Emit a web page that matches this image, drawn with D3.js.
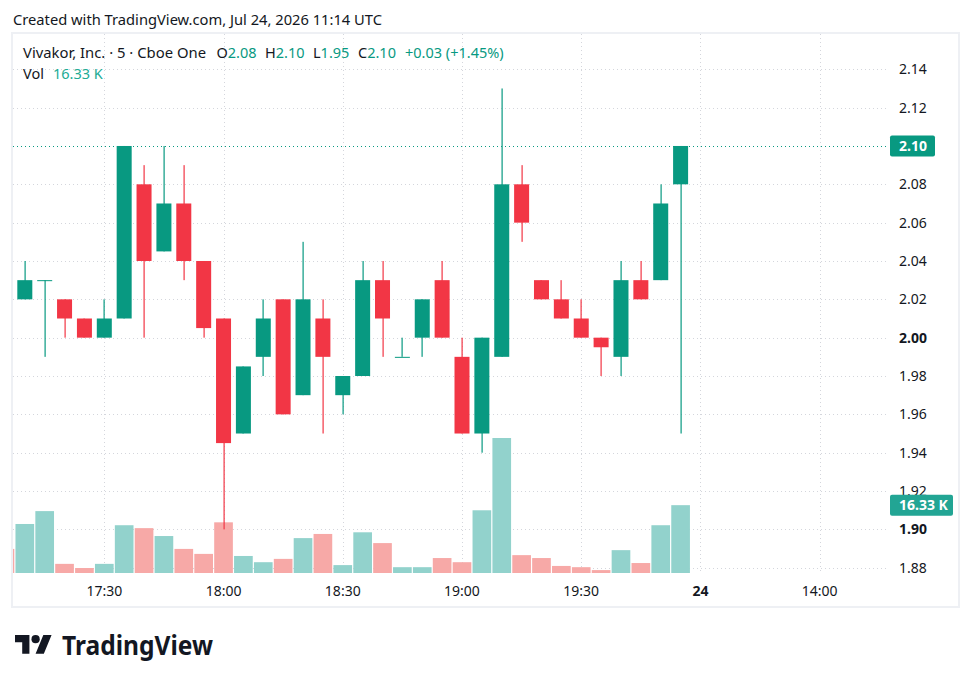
<!DOCTYPE html>
<html>
<head>
<meta charset="utf-8">
<script src="https://cdn.jsdelivr.net/npm/d3@7/dist/d3.min.js"></script>
<style>
  html, body { margin: 0; padding: 0; background: #ffffff; }
  svg { display: block; }
  text { font-family: "Noto Sans", "DejaVu Sans", sans-serif; }
</style>
</head>
<body>
<svg id="chart" width="972" height="683"></svg>
<script>
// ---------------- DATA ----------------
const times  = ["17:10","17:15","17:20","17:25","17:30","17:35","17:40","17:45","17:50","17:55",
                "18:00","18:05","18:10","18:15","18:20","18:25","18:30","18:35","18:40","18:45",
                "18:50","18:55","19:00","19:05","19:10","19:15","19:20","19:25","19:30","19:35",
                "19:40","19:45","19:50","19:55"];
const open   = [2.02,2.03,2.02,2.01,2.00,2.01,2.08,2.045,2.07,2.04,
                2.01,1.95,1.99,2.02,1.97,2.01,1.97,1.98,2.03,1.99,
                2.00,2.03,1.99,1.95,1.99,2.08,2.03,2.02,2.01,2.00,
                1.99,2.03,2.03,2.08];
const high   = [2.04,2.03,2.02,2.01,2.02,2.10,2.09,2.10,2.09,2.04,
                2.01,1.985,2.02,2.02,2.05,2.02,1.98,2.04,2.04,2.00,
                2.02,2.04,2.00,2.00,2.13,2.09,2.03,2.03,2.02,2.00,
                2.04,2.04,2.08,2.10];
const low    = [2.02,1.99,2.00,2.00,2.00,2.01,2.00,2.045,2.03,2.00,
                1.90,1.95,1.98,1.96,1.97,1.95,1.96,1.98,1.99,1.99,
                1.99,2.00,1.95,1.94,1.99,2.05,2.02,2.01,2.00,1.98,
                1.98,2.02,2.03,1.95];
const close  = [2.03,2.03,2.01,2.00,2.01,2.10,2.04,2.07,2.04,2.005,
                1.945,1.985,2.01,1.96,2.02,1.99,1.98,2.03,2.01,1.99,
                2.02,2.00,1.95,2.00,2.08,2.06,2.02,2.01,2.00,1.995,
                2.03,2.02,2.07,2.10];
const volume = [11.8,14.9,2.2,1.2,2.2,11.5,10.8,8.9,5.8,4.6,
                12.2,4.1,2.6,3.4,8.4,9.4,1.9,9.8,7.2,1.4,
                1.4,3.6,2.6,15.1,32.5,4.3,3.6,1.7,1.4,0.7,
                5.5,2.4,11.5,16.33];   // thousands
// bar at 17:05, only its volume is visible at the left edge
const partialTime = "17:05", partialVolume = 5.8, partialUp = false;

const priceTicks = [1.88,1.90,1.92,1.94,1.96,1.98,2.00,2.02,2.04,2.06,2.08,2.10,2.12,2.14];
const boldPriceTicks = [1.90, 2.00];
const timeTickLabels = ["17:30","18:00","18:30","19:00","19:30","24","14:00"];
const timeTickIndex  = [5, 11, 17, 23, 29, 35, 41];   // bar index counted from 17:05
const boldTimeTicks = ["24"];

const headerText = "Created with TradingView.com, Jul 24, 2026 11:14 UTC";
const symbolText = "Vivakor, Inc. · 5 · Cboe One";
const lastPrice = 2.10;
const lastVolumeLabel = "16.33 K";
const changeText = "+0.03 (+1.45%)";

// ---------------- COLORS ----------------
const UP = "#089981", DOWN = "#f23645";
const VUP = "#92d2cc", VDOWN = "#f7a9a7";
const TXT = "#131722", GRID = "#d4d6dc";

// ---------------- LAYOUT ----------------
const svg = d3.select("#chart");
const pane = {left: 13, right: 887, top: 34, bottom: 576};

const x = d3.scaleLinear().domain([5, 41]).range([104.3, 819.7]);   // index space
const y = d3.scaleLinear().domain([1.88, 2.14]).range([567.7, 69.3]);
const vy = d3.scaleLinear().domain([0, d3.max(volume)]).range([573, 438]);

const step = x(1) - x(0);
const bodyW = 15;
const volW = step - 1.2;

// header
svg.append("text").attr("x", 13).attr("y", 25).attr("font-size", 15).attr("fill", TXT)
  .attr("textLength", 369).attr("lengthAdjust", "spacingAndGlyphs")
  .text(headerText);

// frame
svg.append("rect").attr("x", 12).attr("y", 33).attr("width", 947).attr("height", 574)
  .attr("fill", "none").attr("stroke", "#eef0f4").attr("stroke-width", 2);

const clip = svg.append("defs").append("clipPath").attr("id", "paneClip");
clip.append("rect").attr("x", pane.left).attr("y", pane.top)
  .attr("width", pane.right - pane.left).attr("height", pane.bottom - pane.top);

const g = svg.append("g").attr("clip-path", "url(#paneClip)");

// grid: horizontal
g.selectAll("line.hgrid").data(priceTicks.filter(p => p !== lastPrice)).join("line")
  .attr("x1", pane.left).attr("x2", pane.right)
  .attr("y1", d => Math.round(y(d)) + 0.5).attr("y2", d => Math.round(y(d)) + 0.5)
  .attr("stroke", GRID).attr("stroke-width", 1).attr("stroke-dasharray", "1,3");
// grid: vertical
g.selectAll("line.vgrid").data(timeTickIndex).join("line")
  .attr("x1", d => Math.round(x(d)) + 0.5).attr("x2", d => Math.round(x(d)) + 0.5)
  .attr("y1", pane.top).attr("y2", 572)
  .attr("stroke", GRID).attr("stroke-width", 1).attr("stroke-dasharray", "1,3");

// bar records
const bars = times.map((t, k) => ({
  i: k + 1, t, o: open[k], h: high[k], l: low[k], c: close[k], v: volume[k],
  up: close[k] >= open[k]
}));
const volBars = [{i: 0, t: partialTime, v: partialVolume, up: partialUp}].concat(bars);

// volume
g.selectAll("rect.vol").data(volBars).join("rect")
  .attr("x", d => x(d.i) - volW / 2).attr("width", volW)
  .attr("y", d => vy(d.v)).attr("height", d => vy(0) - vy(d.v))
  .attr("fill", d => d.up ? VUP : VDOWN);

// price line (last price)
g.append("line").attr("x1", pane.left).attr("x2", pane.right)
  .attr("y1", Math.round(y(lastPrice)) + 0.5).attr("y2", Math.round(y(lastPrice)) + 0.5)
  .attr("stroke", UP).attr("stroke-width", 1).attr("stroke-dasharray", "1,3");

// wicks
g.selectAll("rect.wick").data(bars).join("rect")
  .attr("x", d => Math.round(x(d.i)) - 0.5).attr("width", 1.2)
  .attr("y", d => y(d.h)).attr("height", d => Math.max(1, y(d.l) - y(d.h)))
  .attr("fill", d => d.up ? UP : DOWN);
// bodies
g.selectAll("rect.body").data(bars).join("rect")
  .attr("x", d => x(d.i) - bodyW / 2).attr("width", bodyW)
  .attr("y", d => y(Math.max(d.o, d.c)))
  .attr("height", d => Math.max(1, Math.abs(y(d.o) - y(d.c))))
  .attr("fill", d => d.up ? UP : DOWN);

// price axis labels
svg.selectAll("text.ptick").data(priceTicks).join("text")
  .attr("x", 899).attr("y", d => y(d)).attr("dy", "0.36em")
  .attr("font-size", 14).attr("fill", TXT)
  .attr("font-weight", d => boldPriceTicks.includes(d) ? 700 : 400)
  .text(d => d.toFixed(2));

// last price box
const lp = svg.append("g").attr("transform", `translate(890,${y(lastPrice)})`);
lp.append("rect").attr("x", 0).attr("y", -10.5).attr("width", 45).attr("height", 21)
  .attr("rx", 2).attr("fill", UP);
lp.append("text").attr("x", 9).attr("dy", "0.36em").attr("font-size", 14)
  .attr("font-weight", 700).attr("fill", "#fff").text(lastPrice.toFixed(2));

// volume box
const lv = svg.append("g").attr("transform", `translate(890,${vy(volume[volume.length - 1])})`);
lv.append("rect").attr("x", 0).attr("y", -10.5).attr("width", 63).attr("height", 21)
  .attr("rx", 2).attr("fill", "#22a594");
lv.append("text").attr("x", 9).attr("dy", "0.36em").attr("font-size", 14)
  .attr("font-weight", 700).attr("fill", "#fff").text(lastVolumeLabel);

// time axis labels
svg.selectAll("text.ttick").data(timeTickLabels).join("text")
  .attr("x", (d, k) => x(timeTickIndex[k])).attr("y", 591).attr("dy", "0.36em")
  .attr("text-anchor", "middle").attr("font-size", 14).attr("fill", TXT)
  .attr("font-weight", d => boldTimeTicks.includes(d) ? 700 : 400)
  .text(d => d);

// legend
const last = bars[bars.length - 1];
const leg = svg.append("g").attr("font-size", 14.5);
leg.append("text").attr("x", 23).attr("y", 58).attr("fill", TXT)
  .attr("textLength", 183).attr("lengthAdjust", "spacingAndGlyphs").text(symbolText);
const ohlc = [["O", last.o, 216.5], ["H", last.h, 265], ["L", last.l, 313], ["C", last.c, 358]];
ohlc.forEach(([k, v, px]) => {
  const t = leg.append("text").attr("x", px).attr("y", 58);
  t.append("tspan").attr("fill", TXT).text(k);
  t.append("tspan").attr("fill", UP).text(v.toFixed(2));
});
leg.append("text").attr("x", 405).attr("y", 58).attr("fill", UP).text(changeText);
leg.append("text").attr("x", 23).attr("y", 79).attr("fill", TXT).text("Vol");
leg.append("text").attr("x", 53).attr("y", 79).attr("fill", "#22ab94").text(lastVolumeLabel);

// TradingView logo
const logo = svg.append("g").attr("transform", "translate(15,631) scale(1.03)").attr("fill", "#131722");
logo.append("path").attr("d", "M14 22H7V11H0V4h14v18zM28 22h-8l7.5-18h8L28 22z");
logo.append("circle").attr("cx", 20).attr("cy", 8).attr("r", 4);
svg.append("text").attr("x", 62).attr("y", 655).attr("font-size", 27)
  .attr("font-family", "Inter, 'Noto Sans', sans-serif").attr("font-weight", 700)
  .attr("fill", "#131722").attr("textLength", 151).attr("lengthAdjust", "spacingAndGlyphs")
  .text("TradingView");
</script>
</body>
</html>
